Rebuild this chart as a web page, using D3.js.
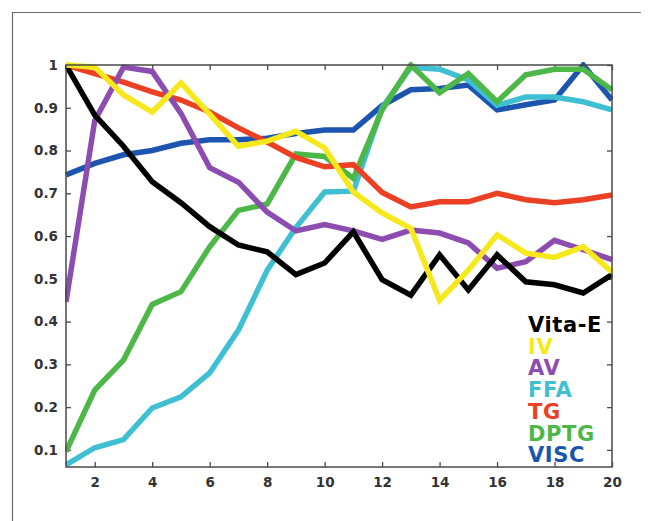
<!DOCTYPE html>
<html>
<head>
<meta charset="utf-8">
<script src="https://cdn.jsdelivr.net/npm/d3@7"></script>
<style>
  html, body { margin: 0; padding: 0; background: #fff; }
  svg { display: block; }
</style>
</head>
<body>
<svg id="chart" width="654" height="521"></svg>
<script>
const xValues = d3.range(1, 21);
const seriesNames = ["Vita-E", "IV", "AV", "FFA", "TG", "DPTG", "VISC"];
const seriesColors = ["#000000", "#f7e81c", "#8d4caf", "#3fc0d2", "#ec4025", "#4db748", "#1c55b0"];

const vitaE = [1.0, 0.883, 0.81, 0.727, 0.678, 0.622, 0.579, 0.563, 0.51, 0.537, 0.61, 0.498, 0.462, 0.556, 0.474, 0.556, 0.493, 0.486, 0.467, 0.51];
const iv    = [1.0, 0.995, 0.93, 0.89, 0.958, 0.885, 0.81, 0.822, 0.845, 0.806, 0.703, 0.654, 0.618, 0.45, 0.52, 0.603, 0.56, 0.55, 0.575, 0.516];
const av    = [0.446, 0.87, 0.995, 0.985, 0.887, 0.76, 0.726, 0.656, 0.612, 0.627, 0.612, 0.592, 0.614, 0.607, 0.584, 0.525, 0.54, 0.59, 0.568, 0.545];
const ffa   = [0.065, 0.105, 0.124, 0.198, 0.224, 0.28, 0.38, 0.52, 0.62, 0.703, 0.705, 0.9, 0.995, 0.99, 0.965, 0.906, 0.925, 0.925, 0.914, 0.895];
const tg    = [1.0, 0.98, 0.96, 0.937, 0.918, 0.89, 0.853, 0.82, 0.784, 0.762, 0.767, 0.702, 0.668, 0.68, 0.68, 0.70, 0.685, 0.678, 0.685, 0.696];
const dptg  = [0.096, 0.24, 0.31, 0.44, 0.47, 0.575, 0.66, 0.675, 0.792, 0.786, 0.735, 0.895, 1.0, 0.935, 0.98, 0.914, 0.977, 0.99, 0.99, 0.942];
const visc  = [0.743, 0.77, 0.79, 0.80, 0.817, 0.825, 0.825, 0.829, 0.84, 0.848, 0.848, 0.905, 0.942, 0.945, 0.953, 0.895, 0.907, 0.918, 1.0, 0.918];

const seriesValues = [vitaE, iv, av, ffa, tg, dptg, visc];
const drawOrder = [6, 3, 5, 4, 2, 0, 1];

const xTicks = [2, 4, 6, 8, 10, 12, 14, 16, 18, 20];
const yTicks = [0.1, 0.2, 0.3, 0.4, 0.5, 0.6, 0.7, 0.8, 0.9, 1];

const svg = d3.select("#chart");
const W = 654, H = 521;
const plot = { left: 66, right: 612, top: 65, bottom: 467 };

// outer frame
svg.append("path")
  .attr("d", `M12.5,${H} L12.5,12.5 L641,12.5`)
  .attr("fill", "none").attr("stroke", "#6a6a6a").attr("stroke-width", 1.2);

const x = d3.scaleLinear().domain([1, 20]).range([plot.left, plot.right]);
const y = d3.scaleLinear().domain([0.06, 1]).range([plot.bottom, plot.top]);

const axisColor = "#4a4a4a";
const tickFont = "DejaVu Sans, Liberation Sans, Arial, sans-serif";

function styleAxis(g) {
  g.select(".domain").remove();
  g.selectAll(".tick line").attr("stroke", axisColor).attr("stroke-width", 1.3);
  g.selectAll(".tick text")
    .attr("fill", "#333")
    .style("font-family", tickFont)
    .style("font-weight", "bold")
    .style("font-size", "13.5px");
}

svg.append("g")
  .attr("transform", `translate(0,${plot.bottom})`)
  .call(d3.axisBottom(x).tickValues(xTicks).tickSizeInner(-5).tickSizeOuter(0).tickPadding(10).tickFormat(d3.format("d")))
  .call(styleAxis);
svg.append("g")
  .attr("transform", `translate(0,${plot.top})`)
  .call(d3.axisTop(x).tickValues(xTicks).tickSizeInner(-5).tickSizeOuter(0).tickFormat(""))
  .call(styleAxis);
svg.append("g")
  .attr("transform", `translate(${plot.left},0)`)
  .call(d3.axisLeft(y).tickValues(yTicks).tickSizeInner(-5).tickSizeOuter(0).tickPadding(8).tickFormat(d => d === 1 ? "1" : d3.format(".1f")(d)))
  .call(styleAxis);
svg.append("g")
  .attr("transform", `translate(${plot.right},0)`)
  .call(d3.axisRight(y).tickValues(yTicks).tickSizeInner(-5).tickSizeOuter(0).tickFormat(""))
  .call(styleAxis);

svg.append("clipPath").attr("id", "plotclip")
  .append("rect").attr("x", plot.left - 1).attr("y", plot.top - 3)
  .attr("width", plot.right - plot.left + 2).attr("height", plot.bottom - plot.top + 4);

const line = d3.line().x((d, i) => x(xValues[i])).y(d => y(d));
const linesG = svg.append("g").attr("clip-path", "url(#plotclip)");
drawOrder.forEach(k => {
  linesG.append("path")
    .datum(seriesValues[k])
    .attr("d", line)
    .attr("fill", "none")
    .attr("stroke", seriesColors[k])
    .attr("stroke-width", 5.5)
    .attr("stroke-linejoin", "miter")
    .attr("stroke-miterlimit", 3);
});

svg.append("rect")
  .attr("x", plot.left).attr("y", plot.top)
  .attr("width", plot.right - plot.left).attr("height", plot.bottom - plot.top)
  .attr("fill", "none").attr("stroke", axisColor).attr("stroke-width", 1.5);

const legend = svg.append("g");
seriesNames.forEach((name, i) => {
  legend.append("text")
    .attr("x", 528)
    .attr("y", 332 + i * 21.7)
    .attr("fill", seriesColors[i])
    .style("font-family", tickFont)
    .style("font-weight", "bold")
    .style("font-size", "21px")
    .style("letter-spacing", "0.6px")
    .text(name);
});
</script>
</body>
</html>
